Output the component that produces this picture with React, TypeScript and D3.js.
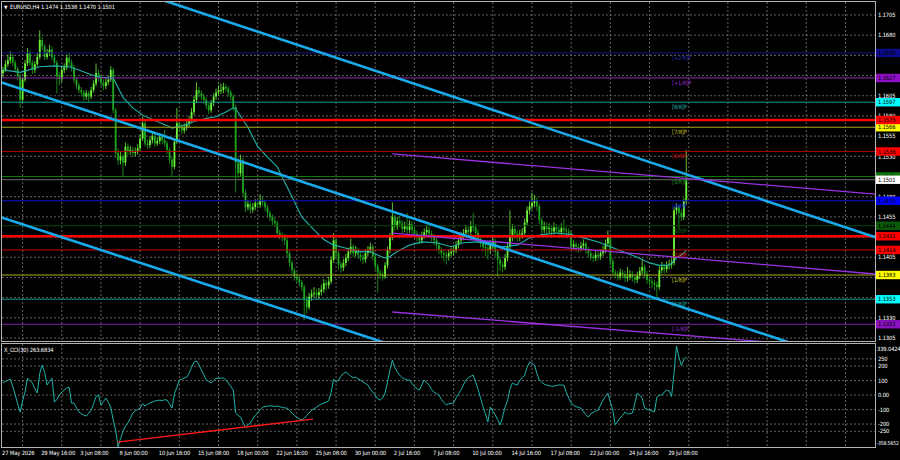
import * as d3 from "d3"

// prices are stored as pips above BASE
const BASE = 1.13
const PIP = 0.0001

const firstOpen = 333

const closePips = [
  337, 344, 349, 353, 346, 338, 329, 300, 325, 345,
  358, 346, 337, 344, 353, 374, 366, 353, 358, 362,
  353, 346, 329, 326, 337, 340, 352, 346, 340, 325,
  318, 312, 309, 304, 308, 304, 312, 320, 333, 328,
  321, 317, 322, 325, 337, 287, 234, 225, 230, 222,
  242, 236, 238, 234, 236, 240, 252, 271, 246, 244,
  250, 255, 246, 249, 254, 250, 246, 238, 226, 217,
  248, 271, 266, 262, 266, 270, 275, 285, 300, 312,
  308, 304, 300, 293, 287, 296, 304, 309, 312, 312,
  316, 314, 309, 304, 291, 222, 209, 225, 185, 167,
  171, 164, 167, 172, 170, 176, 173, 167, 160, 155,
  150, 147, 135, 132, 130, 126, 110, 98, 89, 81,
  78, 74, 68, 52, 43, 56, 60, 61, 58, 62,
  65, 73, 70, 75, 102, 126, 110, 96, 92, 98,
  104, 112, 118, 110, 114, 108, 105, 102, 110, 114,
  118, 106, 94, 86, 84, 81, 95, 114, 130, 155,
  143, 150, 147, 140, 144, 139, 146, 139, 134, 130,
  126, 132, 136, 139, 134, 130, 126, 120, 114, 110,
  108, 106, 110, 112, 114, 120, 126, 130, 135, 139,
  136, 144, 142, 135, 128, 122, 118, 116, 114, 120,
  125, 112, 102, 96, 93, 104, 118, 130, 140, 134,
  130, 133, 135, 148, 163, 168, 172, 176, 168, 151,
  139, 144, 140, 141, 137, 142, 139, 136, 141, 139,
  137, 135, 118, 121, 118, 116, 119, 122, 114, 110,
  106, 104, 108, 106, 110, 114, 122, 130, 100, 86,
  84, 81, 86, 84, 79, 81, 84, 80, 77, 82,
  88, 93, 84, 77, 75, 73, 71, 68, 89, 93,
  90, 95, 96, 98, 163, 167, 160, 155, 174, 201,
]

const highPips = [
  341, 349, 356, 360, 357, 349, 341, 332, 328, 349,
  364, 361, 349, 348, 358, 386, 378, 369, 363, 368,
  366, 356, 349, 334, 342, 345, 356, 358, 350, 343,
  328, 321, 316, 312, 312, 311, 316, 324, 345, 337,
  331, 325, 327, 330, 342, 340, 290, 240, 236, 233,
  247, 246, 243, 242, 241, 245, 257, 279, 274, 251,
  255, 260, 258, 254, 259, 258, 263, 249, 241, 229,
  252, 290, 276, 270, 271, 275, 280, 290, 305, 322,
  316, 312, 308, 303, 296, 300, 308, 314, 318, 320,
  321, 320, 317, 312, 307, 294, 228, 232, 228, 189,
  176, 175, 172, 177, 176, 183, 181, 176, 170, 163,
  158, 154, 150, 139, 136, 134, 129, 113, 101, 92,
  86, 82, 77, 71, 57, 61, 65, 68, 66, 67,
  71, 78, 77, 81, 106, 135, 129, 113, 100, 103,
  109, 117, 128, 121, 119, 117, 112, 109, 115, 119,
  123, 121, 109, 97, 90, 88, 99, 118, 135, 173,
  158, 155, 156, 151, 149, 160, 151, 150, 142, 138,
  134, 137, 141, 145, 143, 138, 134, 129, 124, 118,
  114, 112, 115, 117, 119, 125, 131, 136, 140, 145,
  143, 150, 160, 146, 139, 132, 126, 122, 120, 126,
  131, 128, 115, 106, 100, 109, 123, 163, 146, 144,
  138, 139, 141, 153, 168, 174, 185, 182, 179, 171,
  154, 149, 148, 147, 145, 148, 146, 143, 147, 152,
  143, 141, 138, 126, 124, 122, 124, 127, 125, 118,
  114, 110, 113, 112, 115, 119, 127, 138, 133, 104,
  90, 88, 91, 90, 88, 93, 89, 88, 84, 87,
  93, 103, 96, 88, 81, 79, 77, 75, 94, 99,
  97, 100, 102, 104, 167, 172, 170, 164, 178, 238,
]

const lowPips = [
  328, 334, 341, 345, 342, 334, 324, 290, 296, 322,
  342, 342, 332, 333, 341, 350, 361, 349, 350, 354,
  349, 341, 308, 318, 322, 333, 337, 342, 335, 321,
  313, 308, 304, 299, 300, 297, 301, 309, 317, 323,
  317, 312, 313, 318, 322, 283, 228, 219, 220, 204,
  218, 231, 232, 229, 230, 232, 237, 249, 242, 239,
  240, 246, 242, 243, 245, 245, 242, 233, 221, 204,
  214, 245, 261, 257, 258, 262, 266, 271, 281, 296,
  303, 299, 295, 288, 282, 284, 292, 300, 305, 307,
  308, 310, 304, 299, 286, 185, 203, 205, 180, 161,
  163, 159, 160, 163, 165, 166, 168, 162, 155, 150,
  145, 142, 130, 127, 125, 120, 105, 93, 84, 76,
  73, 69, 63, 27, 35, 40, 51, 55, 52, 53,
  58, 61, 64, 66, 72, 98, 104, 90, 86, 88,
  94, 100, 108, 105, 106, 103, 100, 97, 98, 106,
  110, 101, 89, 61, 78, 76, 78, 91, 110, 126,
  138, 139, 142, 135, 136, 134, 135, 134, 129, 125,
  121, 122, 128, 131, 129, 125, 120, 115, 109, 104,
  100, 96, 101, 106, 107, 110, 116, 122, 126, 131,
  131, 132, 137, 130, 123, 117, 112, 106, 102, 109,
  115, 106, 81, 88, 86, 89, 100, 114, 125, 128,
  124, 125, 128, 131, 144, 158, 164, 167, 162, 146,
  134, 135, 134, 135, 131, 133, 134, 130, 132, 134,
  132, 130, 113, 114, 112, 111, 112, 115, 109, 105,
  101, 99, 100, 101, 102, 106, 110, 118, 95, 81,
  79, 76, 77, 79, 74, 75, 77, 75, 72, 73,
  78, 84, 79, 72, 70, 67, 64, 55, 65, 85,
  85, 86, 90, 91, 95, 158, 140, 150, 151, 170,
]

// moving average, read at these bars
const maBars = [
  0, 7, 15, 21, 27, 31, 36, 40, 45, 49, 53, 57, 63, 67, 69, 75, 78, 83, 87, 91,
  94, 95, 100, 104, 108, 112, 114, 118, 122, 127, 131, 135, 139, 145, 150, 155, 157, 161, 166, 171,
  177, 183, 188, 194, 199, 204, 210, 215, 220, 226, 232, 237, 243, 248, 253, 259, 264, 268, 272, 275,
  278, 279,
]
const maPips = [
  337, 334, 341, 342, 341, 337, 331, 328, 327, 303, 290, 281, 273, 268, 265, 269, 273, 277, 279, 285,
  290, 289, 266, 242, 229, 217, 204, 180, 155, 139, 127, 120, 117, 112, 112, 105, 104, 112, 120, 124,
  123, 118, 123, 124, 120, 118, 120, 129, 133, 135, 133, 129, 124, 118, 112, 105, 98, 95, 95, 104,
  110, 114,
]

const cciValues = [
  83, 95, 102, 110, 60, 0, -60, -117, -40, 21,
  117, 100, 83, 45, 14, 150, 207, 159, 69, 95,
  117, -48, -30, 0, 20, 35, 48, 55, -55, -55,
  -90, -117, -130, -138, -145, -125, -104, -60, -10, 0,
  -69, -45, -21, -50, -83, -173, -242, -358.59, -300, -250,
  -215, -193, -160, -124, -110, -100, -90, -60, -75, -65,
  -55, -48, -40, -38, -35, -38, -32, -35, -60, -90,
  10, 55, 104, 110, 118, 124, 152, 190, 228, 235,
  210, 173, 140, 104, 95, 83, 100, 117, 115, 118,
  117, 105, 83, 60, 35, -124, -140, -152, -190, -221,
  -205, -193, -165, -140, -124, -100, -83, -80, -76, -74,
  -76, -78, -76, -80, -85, -88, -90, -105, -124, -140,
  -155, -165, -173, -160, -140, -124, -105, -95, -83, -72,
  -62, -55, -48, -40, 20, 110, 90, 104, 130, 150,
  159, 145, 131, 120, 125, 112, 104, 90, 80, 69,
  40, 20, 0, -25, -35, -20, 14, 90, 173, 242,
  190, 160, 138, 120, 112, 104, 104, 80, 60, 45,
  35, 70, 104, 85, 69, 40, 20, 10, 0, -30,
  -50, -69, -60, -58, -55, -20, 10, 35, 70, 104,
  120, 130, 138, 90, 40, -21, -80, -130, -186, -83,
  -110, -138, -170, -207, -150, -83, -40, 40, 83, 75,
  69, 100, 120, 138, 190, 228, 220, 207, 150, 104,
  90, 75, 69, 65, 62, 62, 66, 70, 69, 69,
  20, -20, -55, -70, -80, -85, -90, -115, -135, -152,
  -130, -120, -110, -104, -69, -35, -10, 14, -50, -104,
  -207, -180, -159, -140, -117, -131, -128, -124, -55, 14,
  0, -21, -90, -98, -104, -110, -117, -14, 0, 0,
  21, 35, 30, -10, 150, 339.04, 262, 205, 245, 263.6834,
]
const cciMin = -358.5852
const cciMax = 339.0424
const cciTicks = [250, 200, 100, 0, -100, -200, -250]
const cciTickText = ["250", "200", "100", "0.00", "-100", "-200", "-250"]

const priceTicks = [
  1.1705, 1.168, 1.1655, 1.163, 1.1605, 1.158, 1.1555, 1.153, 1.1505,
  1.148, 1.1455, 1.143, 1.1405, 1.138, 1.1355, 1.133, 1.1305,
]

const timeLabels = [
  "27 May 2026", "29 May 16:00", "3 Jun 08:00", "8 Jun 00:00", "10 Jun 16:00", "15 Jun 08:00",
  "18 Jun 00:00", "22 Jun 16:00", "25 Jun 08:00", "30 Jun 00:00", "2 Jul 16:00", "7 Jul 08:00",
  "10 Jul 00:00", "14 Jul 16:00", "17 Jul 08:00", "22 Jul 00:00", "24 Jul 16:00", "29 Jul 08:00",
]
const barsPerLabel = 16

const murrayNames = [
  "[+2/8]P", "[+1/8]P", "[8/8]P", "[7/8]P", "[6/8]P", "[5/8]P",
  "[4/8]P", "[3/8]P", "[2/8]P", "[1/8]P", "[0/8]P", "[-1/8]P",
]
const murrayPrices = [
  1.1658, 1.1627, 1.1597, 1.1566, 1.1536, 1.1505,
  1.1475, 1.1444, 1.1414, 1.1383, 1.1353, 1.1322,
]
const redLevels = [1.1575, 1.1431]
const bidPrice = 1.1501

// trend channel anchors: [bar, price]
const channelLines = [
  [[236, 1.15511], [356, 1.143]],
  [[0, 1.16208], [270, 1.13506]],
  [[0, 1.14536], [138, 1.13169]],
]
const purpleLines = [
  [[159, 1.15329], [356, 1.14833]],
  [[159, 1.1435], [356, 1.13843]],
  [[159, 1.13372], [356, 1.12894]],
]
const cciTrend = [[46.7, -325], [126.6, -166]]

// styles
const murrayLine = [
  "#14148a", "#8a2aa8", "#0f9a9a", "#a8a818", "#b00000", "#0b7a0b",
  "#1010c8", "#0a4a0a", "#d00000", "#a8a818", "#0f9a9a", "#7d1fa0",
]
const murrayBox = [
  "#0c0c8c", "#9010c8", "#00ffff", "#ffff00", "#ff0000", "#0b7a0b",
  "#0000ff", "#0a5a0a", "#ff0000", "#ffff00", "#00ffff", "#8a10c0",
]
const murrayText = [
  "#2a2ab0", "#9a30d0", "#20b0b0", "#c0c020", "#d01010", "#169016",
  "#2020e0", "#126012", "#e01010", "#c0c020", "#20b0b0", "#9a30d0",
]

const FONT = "'DejaVu Sans Condensed', 'Liberation Sans Narrow', 'Liberation Sans', sans-serif"
const FS = 5.8
const LS = -0.15
const PL = 2
const PR = 875
const MT = 2
const MB = 341
const CT = 344
const CB = 447
const BAR = 2.449

export default function App() {
  const x = d3.scaleLinear().domain([0, 356]).range([3, 3 + 356 * BAR])
  const y = d3.scaleLinear().domain([1.1305, 1.1705]).range([338, 15])
  const yc = d3.scaleLinear().domain([cciMin, cciMax]).range([CB, CT + 2])
  const price = (p: number) => BASE + p * PIP

  const candles = closePips.map((c, i) => {
    const o = i === 0 ? firstOpen : closePips[i - 1]
    return { i, o: price(o), c: price(c), h: price(highPips[i]), l: price(lowPips[i]) }
  })
  const last = candles[candles.length - 1]

  const maLine = d3
    .line<number>()
    .x((b) => x(b))
    .y((_, k) => y(price(maPips[k])))(maBars)

  const cciLine = d3
    .line<number>()
    .x((_, i) => x(i))
    .y((v) => yc(v))(cciValues)

  const extend = (a: number[][], b0: number, b1: number) => {
    const [[ba, pa], [bb, pb]] = a
    const at = (b: number) => pa + ((pb - pa) * (b - ba)) / (bb - ba)
    return { x1: x(b0), y1: y(at(b0)), x2: x(b1), y2: y(at(b1)) }
  }

  const gridBars = d3.range(8, 360, barsPerLabel).filter((b) => x(b) < PR)

  const boxes = [
    ...murrayPrices.map((p, k) => ({ p, fill: murrayBox[k], text: p.toFixed(4) })),
    ...redLevels.map((p) => ({ p, fill: "#ff0000", text: p.toFixed(4) })),
    { p: bidPrice, fill: "#ffffff", text: bidPrice.toFixed(4) },
  ]
  // tick labels fully hidden behind a level box are not drawn
  const shownTicks = priceTicks.filter(
    (p) => !boxes.some((b) => Math.abs(y(b.p) - y(p)) < 3.5)
  )

  return (
    <svg
      width={900}
      height={460}
      style={{ position: "fixed", left: 0, top: 0, fontFamily: FONT, letterSpacing: LS }}
    >
      <defs>
        <clipPath id="mainClip">
          <rect x={PL} y={MT} width={PR - PL} height={MB - MT} />
        </clipPath>
        <clipPath id="cciClip">
          <rect x={PL} y={CT} width={PR - PL} height={CB - CT} />
        </clipPath>
      </defs>
      <rect width={900} height={460} fill="#000" />

      {/* grid */}
      <g stroke="#7a7a7a" strokeWidth={0.8} strokeDasharray="2,2">
        {gridBars.map((b) => (
          <g key={b}>
            <line x1={x(b)} x2={x(b)} y1={MT} y2={MB} />
            <line x1={x(b)} x2={x(b)} y1={CT} y2={CB} />
          </g>
        ))}
        {priceTicks.map((p) => (
          <line key={p} x1={PL} x2={PR} y1={y(p)} y2={y(p)} />
        ))}
        {cciTicks.map((v) => (
          <line key={v} x1={PL} x2={PR} y1={yc(v)} y2={yc(v)} />
        ))}
      </g>

      <g clipPath="url(#mainClip)">
        {/* candles */}
        {candles.map((d) => {
          const up = d.c >= d.o
          const col = up ? "#6cf23a" : "#1ea51e"
          const cx = x(d.i)
          const top = y(Math.max(d.o, d.c))
          const bot = y(Math.min(d.o, d.c))
          return (
            <g key={d.i}>
              <line x1={cx} x2={cx} y1={y(d.h)} y2={y(d.l)} stroke={col} strokeWidth={0.8} />
              <rect x={cx - 0.9} y={top} width={1.8} height={Math.max(0.8, bot - top)} fill={col} />
            </g>
          )
        })}

        {/* moving average */}
        <path d={maLine ?? ""} fill="none" stroke="#20b2aa" strokeWidth={1.1} />

        {/* murray levels */}
        {murrayPrices.map((p, k) => (
          <line key={p} x1={PL} x2={PR} y1={y(p)} y2={y(p)} stroke={murrayLine[k]} strokeWidth={1} />
        ))}
        {redLevels.map((p) => (
          <line key={p} x1={PL} x2={PR} y1={y(p)} y2={y(p)} stroke="#ff0000" strokeWidth={2.6} />
        ))}
        <line x1={PL} x2={PR} y1={y(bidPrice)} y2={y(bidPrice)} stroke="#6a6a6a" strokeWidth={1} />

        {/* channels */}
        {channelLines.map((a, k) => {
          const s = extend(a, -5, 360)
          return <line key={k} {...s} stroke="#18aaea" strokeWidth={2.6} />
        })}
        {purpleLines.map((a, k) => {
          const s = extend(a, a[0][0], 360)
          return <line key={k} {...s} stroke="#9932e0" strokeWidth={1.3} />
        })}

        {murrayNames.map((n, k) => (
          <text key={n} x={672} y={y(murrayPrices[k]) + 7} fontSize={FS} fill={murrayText[k]}>
            {n}
          </text>
        ))}
      </g>

      {/* CCI panel */}
      <g clipPath="url(#cciClip)">
        <path d={cciLine ?? ""} fill="none" stroke="#20b2aa" strokeWidth={1} />
        <line
          x1={x(cciTrend[0][0])}
          y1={yc(cciTrend[0][1])}
          x2={x(cciTrend[1][0])}
          y2={yc(cciTrend[1][1])}
          stroke="#ff1a1a"
          strokeWidth={1.4}
        />
      </g>

      {/* frames */}
      <g fill="none" stroke="#b4b4b4" strokeWidth={1}>
        <rect x={PL - 0.5} y={MT - 0.5} width={PR - PL + 1} height={MB - MT + 1} />
        <rect x={PL - 0.5} y={CT - 0.5} width={PR - PL + 1} height={CB - CT + 1} />
      </g>

      {/* titles */}
      <text x={4} y={8.5} fontSize={5} fill="#fff">▼</text>
      <text x={10} y={9} fontSize={FS} fill="#fff">
        {`EURUSD,H4  ${last.o.toFixed(4)} ${last.h.toFixed(4)} ${last.l.toFixed(4)} ${last.c.toFixed(4)}`}
      </text>
      <text x={4} y={CT + 8} fontSize={FS} fill="#fff">
        {`X_CCI(30) ${cciValues[cciValues.length - 1].toFixed(4)}`}
      </text>

      {/* price axis */}
      {shownTicks.map((p) => (
        <text key={p} x={878} y={y(p) + 2.2} fontSize={FS} fill="#fff">
          {p.toFixed(4)}
        </text>
      ))}
      {boxes.map((b, k) => (
        <g key={k}>
          <rect x={876} y={y(b.p) - 4.2} width={24} height={8.4} fill={b.fill} />
          <text x={878} y={y(b.p) + 2.2} fontSize={FS} fill="#000">
            {b.text}
          </text>
        </g>
      ))}

      {/* CCI axis */}
      <text x={877} y={yc(cciMax) + 5} fontSize={FS} fill="#fff">{cciMax.toFixed(4)}</text>
      {cciTicks.map((v, k) => (
        <text key={v} x={878} y={yc(v) + 2.2} fontSize={FS} fill="#fff">
          {cciTickText[k]}
        </text>
      ))}
      <text x={876.5} y={yc(cciMin) - 2} fontSize={5.1} fill="#fff">{cciMin.toFixed(4)}</text>

      {/* time axis */}
      {timeLabels.map((t, k) => (
        <text key={t} x={x(k * barsPerLabel) - 1} y={455} fontSize={FS} fill="#fff">
          {t}
        </text>
      ))}
    </svg>
  )
}
